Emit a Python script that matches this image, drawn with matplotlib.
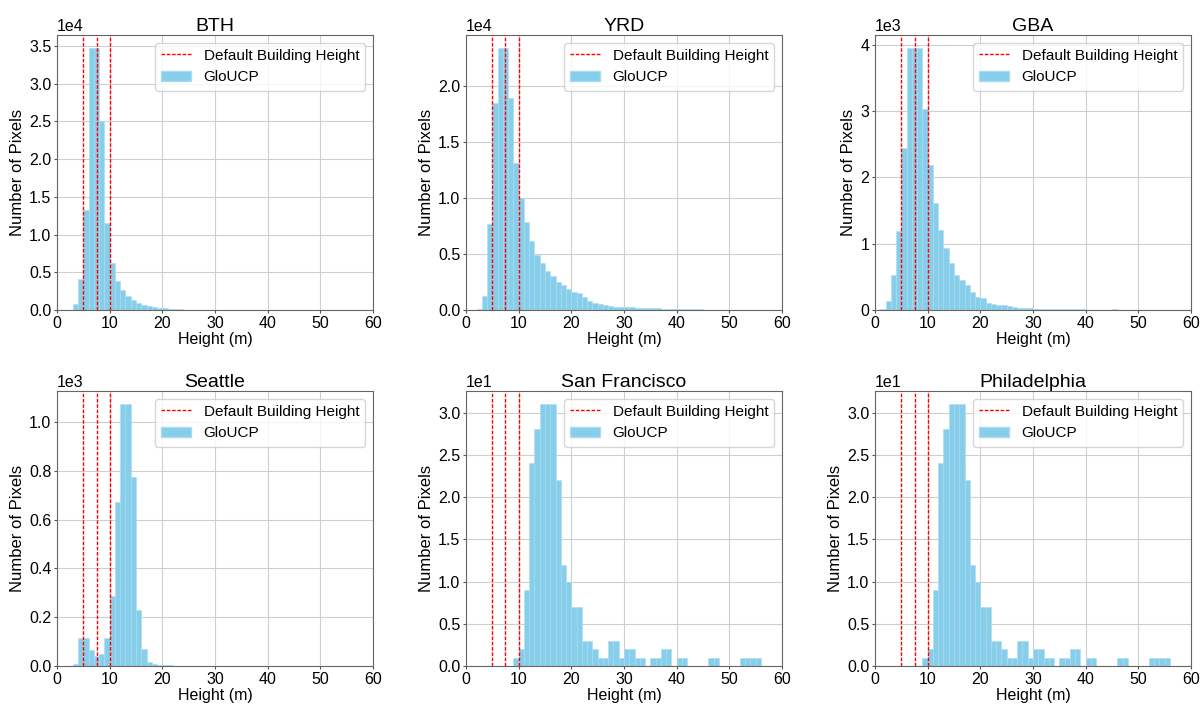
import numpy as np
import matplotlib
matplotlib.use("Agg")
import matplotlib.pyplot as plt
from matplotlib.lines import Line2D
from matplotlib.patches import Patch
from matplotlib.ticker import MaxNLocator

plt.rcParams["font.family"] = ["Liberation Sans", "DejaVu Sans"]

# Histogram bin edges (1 m bins from 0 to 60 m)
bin_edges = np.arange(0, 61, 1)

# Pixel counts per 1 m height bin, starting at the listed first bin
bth_start = 3
bth_counts = [750, 4100, 13300, 34700, 34700, 25100, 11500, 6200, 3800, 2600,
              1900, 1300, 900, 650, 480, 360, 270, 200, 150, 110,
              80, 55, 35, 25, 18, 12, 9, 6, 5, 4, 3, 2, 2, 1, 1]

yrd_start = 2
yrd_counts = [100, 1250, 7700, 18500, 23400, 23400, 18900, 13100, 10000, 7850,
              6200, 4900, 4200, 3500, 3000, 2500, 2200, 1900, 1600, 1500,
              1130, 840, 660, 540, 420, 360, 310, 280, 250, 225,
              200, 180, 165, 150, 135, 120, 110, 100, 90, 75,
              65, 55, 45, 38, 30, 25, 20, 15, 12, 9,
              7, 5, 4, 3, 2, 2, 1, 1]

gba_start = 1
gba_counts = [15, 140, 530, 1190, 2450, 3950, 3950, 3950, 3030, 2190,
              1610, 1210, 940, 710, 530, 450, 380, 270, 200, 180,
              110, 90, 80, 70, 55, 45, 35, 30, 25, 22,
              20, 18, 17, 16, 15, 14, 12, 10, 8, 6,
              5, 4, 4, 5, 10, 4, 2, 2, 1]

sea_start = 3
sea_counts = [7, 116, 116, 66, 42, 50, 116, 286, 673, 1074,
              1074, 774, 228, 68, 15, 8, 6, 4, 4, 2, 1, 1]

sf_start = 9
sf_counts = [1, 2, 9, 24, 28, 31, 31, 31, 22, 12,
             10, 7, 7, 3, 3, 2, 1, 1, 3, 3,
             1, 2, 2, 1, 1, 0, 1, 1, 2, 2,
             0, 1, 1, 0, 0, 0, 0, 1, 1, 0,
             0, 0, 0, 1, 1, 1, 1]

phl_start = 9
phl_counts = [1, 2, 9, 24, 28, 31, 31, 31, 22, 12,
              10, 7, 7, 3, 3, 2, 1, 1, 3, 3,
              1, 2, 2, 1, 1, 0, 1, 1, 2, 2,
              0, 1, 1, 0, 0, 0, 0, 1, 1, 0,
              0, 0, 0, 1, 1, 1, 1]

regions = ["BTH", "YRD", "GBA", "Seattle", "San Francisco", "Philadelphia"]
starts = [bth_start, yrd_start, gba_start, sea_start, sf_start, phl_start]
counts = [bth_counts, yrd_counts, gba_counts, sea_counts, sf_counts, phl_counts]

# Default building heights (m)
default_heights = [5, 7.5, 10]

bar_color = "skyblue"
bar_edge = "#a9dcf0"
dash = (2.6, 1.2)

fig = plt.figure(figsize=(12, 7.05), dpi=100)

lefts = [57 / 1200, 466 / 1200, 875 / 1200]
width = 316 / 1200
bottoms = [(705 - 310) / 705, (705 - 666) / 705]
height = 275 / 705

for i, (name, start, cnt) in enumerate(zip(regions, starts, counts)):
    row, col = divmod(i, 3)
    ax = fig.add_axes([lefts[col], bottoms[row], width, height])
    centers = np.arange(start, start + len(cnt)) + 0.5
    ax.hist(centers, bins=bin_edges, weights=cnt, color=bar_color,
            edgecolor=bar_edge, linewidth=0.4, label="GloUCP")
    for h in default_heights:
        ax.axvline(h, color="red", linestyle="--", dashes=dash,
                   linewidth=1.0, zorder=3)
    ax.set_xlim(0, 60)
    ax.yaxis.set_major_locator(MaxNLocator(nbins=8, steps=[1, 2, 2.5, 5, 10]))
    ax.set_axisbelow(True)
    ax.grid(True, color="#cfcfcf", linewidth=0.8)
    ax.ticklabel_format(axis="y", style="sci", scilimits=(0, 0))
    ax.yaxis.get_offset_text().set_fontsize(11.5)
    ax.tick_params(labelsize=11.5, length=2.5, pad=1.5,
                   colors="#555555", labelcolor="black")
    for s in ax.spines.values():
        s.set_color("#666666")
    ax.set_title(name, fontsize=14, pad=3)
    ax.set_xlabel("Height (m)", fontsize=11.5, labelpad=1)
    ax.set_ylabel("Number of Pixels", fontsize=12, labelpad=3)
    handles = [Line2D([], [], color="red", linestyle="--", dashes=dash,
                      linewidth=1.0),
               Patch(facecolor=bar_color, edgecolor=bar_edge)]
    ax.legend(handles, ["Default Building Height", "GloUCP"],
              loc="upper right", fontsize=11)

fig.savefig("out.png", dpi=100)
